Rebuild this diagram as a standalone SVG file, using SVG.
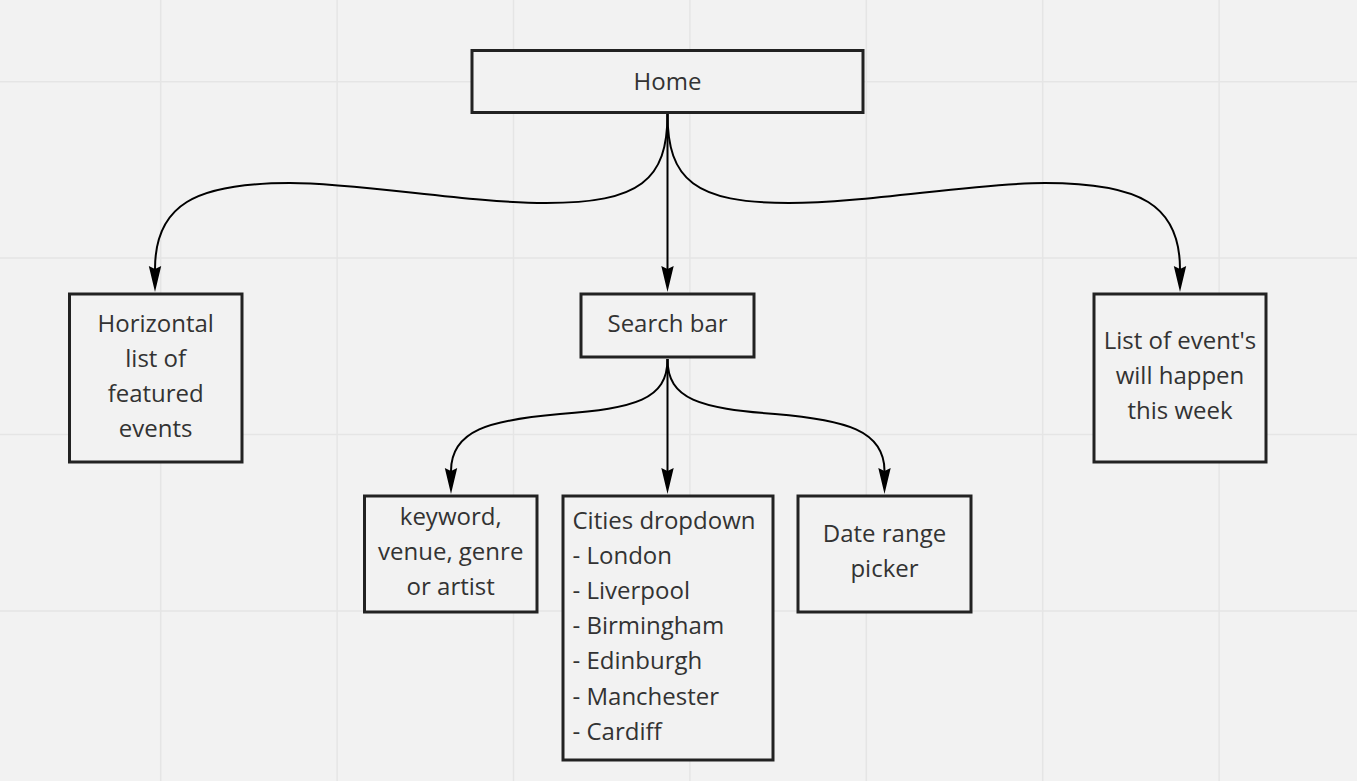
<svg xmlns="http://www.w3.org/2000/svg" width="1357" height="781" viewBox="0 0 1357 781">
  <style>
    .grid line { stroke: #e5e5e5; stroke-width: 1.5; }
    .box { fill: #f2f2f2; stroke: #222; stroke-width: 3; }
    .lbl { font-family: "Open Sans", "Liberation Sans", sans-serif; font-size: 24px; fill: #333; }
    .c { text-anchor: middle; }
    .conn path { fill: none; stroke: #000; stroke-width: 2; marker-end: url(#arr); }
  </style>
  <defs>
    <marker id="arr" markerUnits="userSpaceOnUse" viewBox="0 -7 27 14" markerWidth="27" markerHeight="14" refX="3" refY="0" orient="auto">
      <polygon points="0,-6.2 26,0 0,6.2 3,0" fill="#000"/>
    </marker>
  </defs>
  <rect width="1357" height="781" fill="#f2f2f2"/>
  <g class="grid">
    <line x1="160.7" y1="0" x2="160.7" y2="781"/>
    <line x1="337.1" y1="0" x2="337.1" y2="781"/>
    <line x1="513.5" y1="0" x2="513.5" y2="781"/>
    <line x1="689.9" y1="0" x2="689.9" y2="781"/>
    <line x1="866.3" y1="0" x2="866.3" y2="781"/>
    <line x1="1042.7" y1="0" x2="1042.7" y2="781"/>
    <line x1="1219.1" y1="0" x2="1219.1" y2="781"/>
    <line x1="0" y1="81.7" x2="1357" y2="81.7"/>
    <line x1="0" y1="258.1" x2="1357" y2="258.1"/>
    <line x1="0" y1="434.5" x2="1357" y2="434.5"/>
    <line x1="0" y1="610.9" x2="1357" y2="610.9"/>
  </g>
  <g class="conn">
    <path d="M667.5,114 L667.5,269"/>
    <path d="M667.5,114 C667.5,180 640,203 546,203 C470,203 360,183 290,183 C195,183 155,205 155,269"/>
    <path d="M667.5,114 C667.5,180 695,203 789,203 C865,203 975,183 1045,183 C1140,183 1180,205 1180,269"/>
    <path d="M667.5,359 L667.5,471"/>
    <path d="M667.5,359 C667.5,400 635,408 560,414 C490,420 451,430 451,471"/>
    <path d="M667.5,359 C667.5,400 700,408 775,414 C845,420 884.5,430 884.5,471"/>
  </g>
  <g id="home">
    <rect class="box" x="472" y="50.5" width="391" height="62"/>
    <text class="lbl c" x="667.5" y="89.5">Home</text>
  </g>
  <g id="featured">
    <rect class="box" x="69.5" y="294" width="172.5" height="168"/>
    <text class="lbl c" x="155.7" y="332">Horizontal</text>
    <text class="lbl c" x="155.7" y="367">list of</text>
    <text class="lbl c" x="155.7" y="402">featured</text>
    <text class="lbl c" x="155.7" y="437">events</text>
  </g>
  <g id="search">
    <rect class="box" x="581" y="294" width="173" height="63"/>
    <text class="lbl c" x="667.5" y="332">Search bar</text>
  </g>
  <g id="week">
    <rect class="box" x="1094" y="294" width="172" height="168"/>
    <text class="lbl c" x="1180" y="348.5">List of event's</text>
    <text class="lbl c" x="1180" y="383.5">will happen</text>
    <text class="lbl c" x="1180" y="418.5">this week</text>
  </g>
  <g id="keyword">
    <rect class="box" x="364.5" y="496" width="172.5" height="116"/>
    <text class="lbl c" x="450.7" y="525">keyword,</text>
    <text class="lbl c" x="450.7" y="560">venue, genre</text>
    <text class="lbl c" x="450.7" y="595">or artist</text>
  </g>
  <g id="cities">
    <rect class="box" x="563" y="496" width="210" height="264"/>
    <text class="lbl" x="572.5" y="528.5">Cities dropdown</text>
    <text class="lbl" x="572.5" y="563.7">- London</text>
    <text class="lbl" x="572.5" y="598.9">- Liverpool</text>
    <text class="lbl" x="572.5" y="634.1">- Birmingham</text>
    <text class="lbl" x="572.5" y="669.3">- Edinburgh</text>
    <text class="lbl" x="572.5" y="704.5">- Manchester</text>
    <text class="lbl" x="572.5" y="739.7">- Cardiff</text>
  </g>
  <g id="daterange">
    <rect class="box" x="798" y="496" width="173" height="116"/>
    <text class="lbl c" x="884.5" y="541.7">Date range</text>
    <text class="lbl c" x="884.5" y="576.7">picker</text>
  </g>
</svg>
